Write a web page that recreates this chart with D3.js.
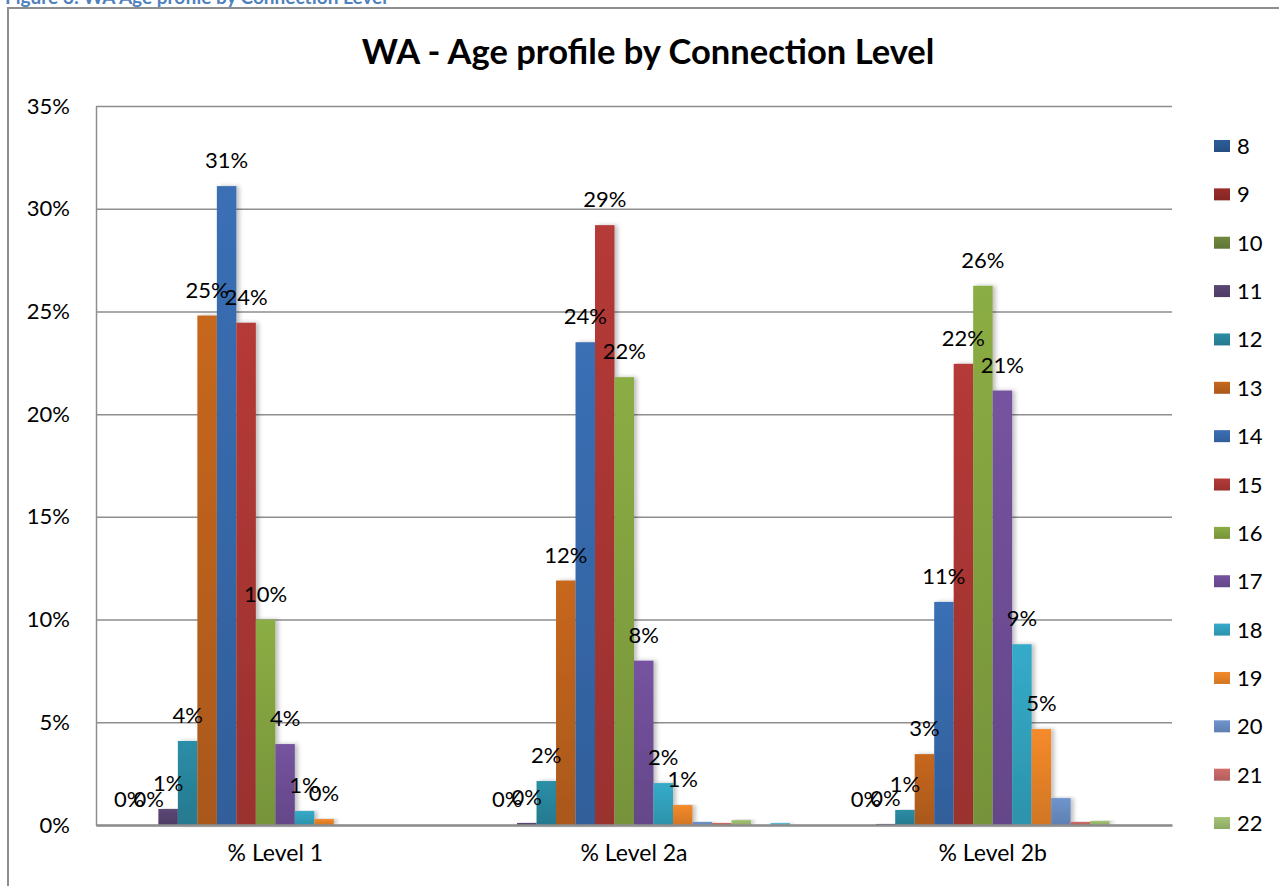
<!DOCTYPE html>
<html>
<head>
<meta charset="utf-8">
<script src="https://cdn.jsdelivr.net/npm/d3@7"></script>
<style>
  body { margin: 0; background: #fff; }
  svg { display: block; font-family: Lato, "Open Sans", sans-serif; }
</style>
</head>
<body>
<svg id="chart" width="1279" height="886"></svg>
<script>
// categories along the x axis
var categories = ["% Level 1", "% Level 2a", "% Level 2b"];

// age series (legend only shows 8-22, the rest are cut off like in the original)
var ages = ["8", "9", "10", "11", "12", "13", "14", "15", "16", "17", "18", "19", "20", "21", "22", "23", "24", "25"];
var legendAges = ["8", "9", "10", "11", "12", "13", "14", "15", "16", "17", "18", "19", "20", "21", "22"];
var labelledAges = ["8", "9", "10", "11", "12", "13", "14", "15", "16", "17", "18", "19"];

// percent values per category, in age order (null = no data)
var level1 = [null, 0, 0, 0.78, 4.09, 24.8, 31.1, 24.45, 10.0, 3.94, 0.68, 0.29, null, null, null, null, null, null];
var level2a = [null, null, 0, 0.1, 2.14, 11.9, 23.5, 29.2, 21.8, 8.0, 2.04, 0.97, 0.15, 0.1, 0.24, null, 0.1, null];
var level2b = [null, null, 0, 0.05, 0.73, 3.45, 10.86, 22.45, 26.25, 21.15, 8.8, 4.67, 1.31, 0.15, 0.2, null, null, null];

var yTicks = [0, 5, 10, 15, 20, 25, 30, 35];

var colors = ["#2c5d98", "#9b2d2a", "#71893f", "#5c4776", "#2b8ea7", "#c7671e",
              "#3a6fb5", "#b53a37", "#8bad44", "#7553a0", "#35abc9", "#f58a2a",
              "#6f95ce", "#d06e6b", "#a5c676", "#9a84bb", "#5fbfd6", "#f8a65d"];

var values = [level1, level2a, level2b];

var svg = d3.select("#chart");

// cut off figure caption at top
svg.append("text")
    .text("Figure 3: WA Age profile by Connection Level")
    .attr("x", 5).attr("y", 4)
    .attr("font-size", 19).attr("font-weight", "bold")
    .attr("fill", "#4f81bd");

// chart border
svg.append("path")
    .attr("d", "M8,886 V8 H1279")
    .attr("fill", "none")
    .attr("stroke", "#8e8e8e")
    .attr("stroke-width", 2);

// title
svg.append("text")
    .text("WA - Age profile by Connection Level")
    .attr("x", 648).attr("y", 64)
    .attr("text-anchor", "middle")
    .attr("font-size", 34.5)
    .attr("font-weight", "bold")
    .attr("fill", "#000");

var plotLeft = 96, plotRight = 1172, plotTop = 106, plotBottom = 825;

var x0 = d3.scaleBand().domain(categories).range([plotLeft, plotRight]);
var x1 = d3.scaleBand().domain(ages).range([0, x0.bandwidth()]).paddingInner(0).paddingOuter(0.2);
var y = d3.scaleLinear().domain([0, 35]).range([plotBottom, plotTop]);

// gradients + shadow
var defs = svg.append("defs");
colors.forEach(function (c, i) {
    var g = defs.append("linearGradient")
        .attr("id", "grad" + i)
        .attr("x1", "0%").attr("y1", "0%")
        .attr("x2", "0%").attr("y2", "100%");
    g.append("stop").attr("offset", "0%").attr("stop-color", c);
    g.append("stop").attr("offset", "100%").attr("stop-color", d3.color(c).darker(0.45));
});
var shadow = defs.append("filter").attr("id", "shadow")
    .attr("x", "-20%").attr("y", "-5%").attr("width", "160%").attr("height", "110%");
shadow.append("feDropShadow")
    .attr("dx", 3).attr("dy", 0).attr("stdDeviation", 2)
    .attr("flood-color", "#000").attr("flood-opacity", 0.25);

// y axis with gridlines
var yAxis = svg.append("g")
    .attr("transform", "translate(" + plotLeft + ",0)")
    .call(d3.axisLeft(y).tickValues(yTicks)
        .tickFormat(function (d) { return d + "%"; })
        .tickSizeInner(-(plotRight - plotLeft)).tickSizeOuter(0).tickPadding(26));
yAxis.select(".domain").attr("stroke", "#8e8e8e").attr("stroke-width", 1.5);
yAxis.selectAll(".tick line").attr("stroke", "#8e8e8e").attr("stroke-width", 1.5);
yAxis.selectAll("text")
    .attr("font-size", 22)
    .attr("font-family", "Lato, sans-serif")
    .attr("fill", "#000");

// bars
var groups = svg.append("g").selectAll("g")
    .data(categories)
    .join("g")
    .attr("transform", function (d) { return "translate(" + x0(d) + ",0)"; });

groups.each(function (cat, ci) {
    var rows = ages.map(function (a, i) { return { age: a, i: i, v: values[ci][i] }; })
        .filter(function (d) { return d.v !== null; });

    d3.select(this).selectAll("rect")
        .data(rows)
        .join("rect")
        .attr("x", function (d) { return x1(d.age); })
        .attr("y", function (d) { return y(d.v); })
        .attr("width", x1.bandwidth())
        .attr("height", function (d) { return plotBottom - y(d.v); })
        .attr("fill", function (d) { return "url(#grad" + d.i + ")"; })
        .attr("filter", "url(#shadow)");

    d3.select(this).selectAll("text.lbl")
        .data(rows.filter(function (d) { return labelledAges.indexOf(d.age) >= 0; }))
        .join("text")
        .attr("class", "lbl")
        .attr("x", function (d) { return x1(d.age) + x1.bandwidth() / 2; })
        .attr("y", function (d) { return y(d.v) - 18; })
        .attr("text-anchor", "middle")
        .attr("font-size", 22)
        .attr("fill", "#000")
        .text(function (d) { return Math.round(d.v) + "%"; });
});

// x axis
var xAxis = svg.append("g")
    .attr("transform", "translate(0," + plotBottom + ")")
    .call(d3.axisBottom(x0).tickSize(0).tickPadding(20));
xAxis.select(".domain").attr("stroke", "#8e8e8e").attr("stroke-width", 2.5);
xAxis.selectAll("text")
    .attr("font-size", 23)
    .attr("font-family", "Lato, sans-serif")
    .attr("fill", "#000");

// legend
var legend = svg.append("g").selectAll("g")
    .data(legendAges)
    .join("g")
    .attr("transform", function (d, i) { return "translate(1214," + (146 + i * 48.36) + ")"; });
legend.append("rect")
    .attr("x", 0).attr("y", -6)
    .attr("width", 16).attr("height", 12)
    .attr("fill", function (d) { return "url(#grad" + ages.indexOf(d) + ")"; });
legend.append("text")
    .attr("x", 23).attr("y", 8)
    .attr("font-size", 22)
    .attr("fill", "#000")
    .text(function (d) { return d; });
</script>
</body>
</html>
